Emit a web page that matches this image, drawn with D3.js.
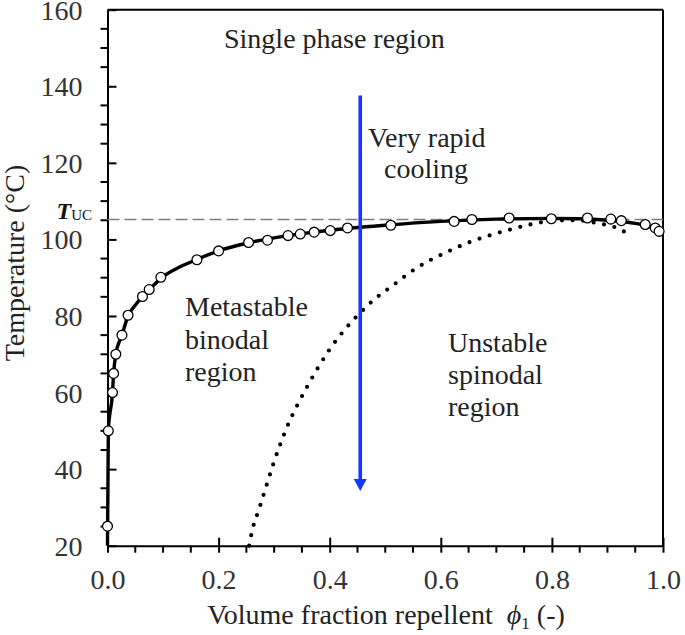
<!DOCTYPE html>
<html><head><meta charset="utf-8">
<script src="https://cdn.jsdelivr.net/npm/d3@7"></script>
<style>
html,body{margin:0;padding:0;background:#fff;}
svg{display:block;font-family:"Liberation Serif","Times New Roman",serif;}
</style></head>
<body><svg id="chart" width="685" height="635"></svg>
<script>
// ---- data ----
const xTicks = [0.0, 0.2, 0.4, 0.6, 0.8, 1.0];
const xTickLabels = ["0.0", "0.2", "0.4", "0.6", "0.8", "1.0"];
const yTicks = [20, 40, 60, 80, 100, 120, 140, 160];
const yTickLabels = ["20", "40", "60", "80", "100", "120", "140", "160"];

// measured binodal points (open circles)
const binodalX = [0.0, 0.0015, 0.009, 0.011, 0.015, 0.026, 0.037, 0.063, 0.075, 0.096, 0.161, 0.200, 0.254, 0.288, 0.325, 0.347, 0.372, 0.401, 0.432, 0.510, 0.624, 0.656, 0.723, 0.799, 0.864, 0.906, 0.925, 0.968, 0.986, 0.993];
const binodalT = [25.1, 50, 60, 65, 70, 75, 80.2, 85.1, 86.9, 90.1, 94.7, 97.0, 99.2, 99.8, 101.0, 101.4, 101.9, 102.3, 103.0, 103.7, 104.7, 105.2, 105.6, 105.4, 105.6, 105.3, 104.9, 103.9, 103.0, 102.1];

// fitted binodal curve (solid line)
const fitX = [0.0, 0.0015, 0.009, 0.011, 0.015, 0.026, 0.037, 0.05, 0.063, 0.08, 0.1, 0.13, 0.16, 0.2, 0.25, 0.3, 0.35, 0.4, 0.5, 0.6, 0.7, 0.8, 0.85, 0.9, 0.95, 0.975, 0.993];
const fitT = [20, 50, 60, 65, 70, 75, 80, 82.8, 85.1, 87.6, 90.3, 92.8, 94.7, 97.0, 99.0, 100.4, 101.5, 102.4, 103.7, 104.7, 105.3, 105.5, 105.4, 105.0, 104.2, 103.3, 102.1];

// spinodal curve (dotted line)
const spinX = [0.255, 0.261, 0.273, 0.285, 0.297, 0.310, 0.324, 0.341, 0.360, 0.379, 0.400, 0.424, 0.452, 0.480, 0.512, 0.557, 0.611, 0.650, 0.689, 0.725, 0.761, 0.782, 0.820, 0.845, 0.880, 0.900, 0.919, 0.936];
const spinT = [20, 24.3, 29.6, 35.2, 40.7, 46.1, 51.3, 56.5, 61.7, 66.5, 71.3, 75.9, 80.4, 84.3, 87.8, 92.6, 96.7, 99.2, 101.1, 102.6, 103.9, 104.5, 105.0, 105.0, 104.3, 103.7, 102.9, 101.5];

const Tuc = 105.2;
const coolingX = 0.455, coolingFrom = 137.6, coolingTo = 34.3;

// ---- layout ----
const W = 685, H = 635;
const m = {left: 107.5, right: 22, top: 9.7, bottom: 89.3};
const svg = d3.select("#chart");
const x = d3.scaleLinear().domain([0, 1]).range([m.left, W - m.right]);
const y = d3.scaleLinear().domain([20, 160]).range([H - m.bottom, m.top]);
const textCol = "#222";

// frame (top & right)
svg.append("line").attr("x1", x(0)).attr("x2", x(1)).attr("y1", y(160)).attr("y2", y(160))
  .attr("stroke", "#000").attr("stroke-width", 2);
svg.append("line").attr("x1", x(1)).attr("x2", x(1)).attr("y1", y(160)).attr("y2", y(20))
  .attr("stroke", "#000").attr("stroke-width", 2);

// minor ticks
const xMinor = d3.range(0, 21).map(i => i * 0.05).filter(v => Math.abs(v * 5 - Math.round(v * 5)) > 1e-6);
const yMinor = d3.range(20, 161, 5).filter(v => v % 20 !== 0);
svg.append("g").selectAll("line").data(xMinor).join("line")
  .attr("x1", d => x(d)).attr("x2", d => x(d)).attr("y1", y(20)).attr("y2", y(20) + 7)
  .attr("stroke", "#000").attr("stroke-width", 2);
svg.append("g").selectAll("line").data(yMinor).join("line")
  .attr("x1", x(0) - 7).attr("x2", x(0)).attr("y1", d => y(d)).attr("y2", d => y(d))
  .attr("stroke", "#000").attr("stroke-width", 2);

// axes with d3
const xAxis = d3.axisBottom(x).tickValues(xTicks).tickFormat((d, i) => xTickLabels[i]).tickSize(7).tickSizeOuter(0).tickPadding(25);
const yAxis = d3.axisLeft(y).tickValues(yTicks).tickFormat((d, i) => yTickLabels[i]).tickSize(8).tickSizeOuter(0).tickPadding(17);
const gx = svg.append("g").attr("transform", `translate(0,${y(20)})`).call(xAxis);
const gy = svg.append("g").attr("transform", `translate(${x(0)},0)`).call(yAxis);
[gx, gy].forEach(g => {
  g.select(".domain").attr("stroke", "#000").attr("stroke-width", 2);
  g.selectAll(".tick line").attr("stroke", "#000").attr("stroke-width", 2);
  g.selectAll(".tick text").attr("font-family", "Liberation Serif").attr("font-size", 28).attr("fill", "#333");
});
// major ticks cross the axis
gx.selectAll(".tick line").attr("y1", -8);
gy.selectAll(".tick line").attr("x2", 9);
gx.selectAll(".tick text").attr("dy", null).attr("y", 43).attr("dominant-baseline", "alphabetic");
gy.selectAll(".tick text").attr("dy", "0.34em");

// Tuc dashed line
svg.append("line").attr("x1", x(0)).attr("x2", x(1)).attr("y1", y(Tuc)).attr("y2", y(Tuc))
  .attr("stroke", "#7f7f7f").attr("stroke-width", 1.6).attr("stroke-dasharray", "12,5");

// spinodal dotted
const spin = spinX.map((v, i) => [v, spinT[i]]);
svg.append("path").datum(spin)
  .attr("d", d3.line().x(d => x(d[0])).y(d => y(d[1])).curve(d3.curveMonotoneX))
  .attr("fill", "none").attr("stroke", "#000").attr("stroke-width", 4.2)
  .attr("stroke-linecap", "round").attr("stroke-dasharray", "0,10.6");

// binodal fit curve
const fit = fitX.map((v, i) => [v, fitT[i]]);
svg.append("path").datum(fit)
  .attr("d", d3.line().x(d => x(d[0])).y(d => y(d[1])).curve(d3.curveMonotoneX))
  .attr("fill", "none").attr("stroke", "#000").attr("stroke-width", 3.4).attr("stroke-linejoin", "round");

// binodal points
const pts = binodalX.map((v, i) => [v, binodalT[i]]);
svg.append("g").selectAll("circle").data(pts).join("circle")
  .attr("cx", d => x(d[0])).attr("cy", d => y(d[1])).attr("r", 4.9)
  .attr("fill", "#fff").attr("stroke", "#000").attr("stroke-width", 1.3);

// cooling arrow
const blue = "#1436ff";
const ax = x(coolingX), ay0 = y(coolingFrom), ay1 = y(coolingTo);
svg.append("line").attr("x1", ax).attr("x2", ax).attr("y1", ay0).attr("y2", ay1 - 10)
  .attr("stroke", blue).attr("stroke-width", 3.6);
svg.append("path").attr("d", `M${ax - 6.5},${ay1 - 12} L${ax + 6.5},${ay1 - 12} L${ax},${ay1} Z`).attr("fill", blue);

// annotations
function label(lines, x0, ys, anchor) {
  const t = svg.append("g");
  lines.forEach((s, i) => {
    t.append("text").attr("x", x0).attr("y", ys[i]).attr("font-size", 28)
      .attr("text-anchor", anchor || "start").attr("fill", textCol).text(s);
  });
}
label(["Single phase region"], 224, [48]);
label(["Very rapid"], 368, [147]);
label(["cooling"], 384, [178]);
label(["Metastable", "binodal", "region"], 185, [316, 349, 381]);
label(["Unstable", "spinodal", "region"], 448, [352, 384, 416]);

// T_UC label
const tl = svg.append("text").attr("x", 92).attr("y", 219).attr("text-anchor", "end").attr("fill", "#111");
tl.append("tspan").attr("font-size", 24).attr("font-weight", "bold").attr("font-style", "italic").text("T");
tl.append("tspan").attr("font-size", 15).attr("dy", 1).text("UC");

// axis titles
const xt = svg.append("text").attr("x", 386).attr("y", 624).attr("text-anchor", "middle")
  .attr("font-size", 28).attr("fill", textCol);
xt.append("tspan").text("Volume fraction repellent\u00a0 ");
xt.append("tspan").attr("font-style", "italic").text("\u03d5");
xt.append("tspan").attr("font-size", 17).attr("dy", 5).text("1");
xt.append("tspan").attr("dy", -5).text(" (-)");

svg.append("text").attr("transform", `translate(24,263) rotate(-90)`).attr("text-anchor", "middle")
  .attr("font-size", 28).attr("fill", textCol).text("Temperature (\u00b0C)");
</script></body></html>
